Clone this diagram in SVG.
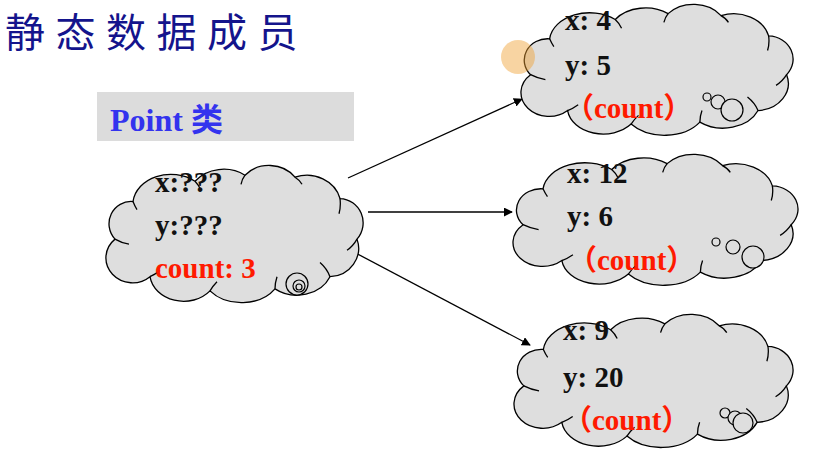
<svg xmlns="http://www.w3.org/2000/svg" width="823" height="450" viewBox="0 0 823 450">
<defs>
<style>
.cloud{fill:#dedede;stroke:#000;stroke-width:1.3;}
.inner{fill:none;stroke:#000;stroke-width:1.3;}
.bub{fill:#dedede;stroke:#000;stroke-width:1.2;}
.t{font-family:"Liberation Serif","Noto Sans CJK SC",serif;font-weight:bold;font-size:29px;fill:#111;}
.r{fill:#ff1a00;}
.conn{stroke:#000;stroke-width:1.3;fill:none;marker-end:url(#ah);}
</style>
<marker id="ah" viewBox="0 0 10 10" refX="9" refY="5" markerWidth="9" markerHeight="9" markerUnits="userSpaceOnUse" orient="auto">
<path d="M0,0 L10,5 L0,10 Z" fill="#000"/>
</marker>
<g id="cloudShape">
<path class="cloud" vector-effect="non-scaling-stroke" d="M 10,75 A 22,22 0 0 1 28,38 A 38,30 0 0 1 90,18 A 36,30 0 0 1 140,12 A 32,28 0 0 1 190,14 A 34,30 0 0 1 235,35 A 24,24 0 0 1 252,75 A 30,28 0 0 1 225,112 A 36,30 0 0 1 170,124 A 40,30 0 0 1 105,126 A 34,28 0 0 1 45,112 A 26,24 0 0 1 10,75 Z"/>
<path class="inner" vector-effect="non-scaling-stroke" d="M 28,38 Q 30,43 32,46 M 90,18 Q 94,22 96,27 M 140,12 Q 137,16 136,21 M 190,14 Q 195,17 197,21 M 235,35 Q 236,43 234,50 M 252,75 Q 248,82 242,86 M 225,112 Q 222,104 215,98 M 170,124 Q 170,118 172,112 M 105,126 Q 108,121 112,117 M 45,112 Q 50,110 55,106 M 10,75 Q 17,79 24,80"/>
</g>
</defs>
<text x="5" y="46.5" font-family="Noto Sans CJK SC,sans-serif" font-size="40" letter-spacing="10.5" fill="#14148c">静态数据成员</text>
<g id="pointClass">
<rect x="97" y="92" width="257" height="49" fill="#dcdcdc"/>
<text x="110" y="131" font-family="Liberation Serif,Noto Sans CJK SC,serif" font-weight="bold" font-size="32" fill="#3333ee">Point 类</text>
</g>
<g id="connectors">
<line class="conn" x1="348" y1="178" x2="522" y2="99"/>
<line class="conn" x1="368" y1="212" x2="512" y2="212"/>
<line class="conn" x1="350" y1="250" x2="530" y2="345"/>
</g>
<g id="classCloud">
<use href="#cloudShape" transform="translate(105,163) scale(1,1.015)"/>
<circle class="bub" cx="297" cy="284" r="11"/>
<circle class="bub" cx="299" cy="286" r="6"/>
<circle class="bub" cx="299" cy="287" r="3"/>
<text class="t" x="155" y="192">x:???</text>
<text class="t" x="155" y="235">y:???</text>
<text class="t r" x="155" y="278">count: 3</text>
</g>
<g id="obj1">
<use href="#cloudShape" transform="translate(520,2) scale(1.058,0.969)"/>
<circle class="bub" cx="707" cy="97" r="4"/>
<circle class="bub" cx="718" cy="102" r="7"/>
<circle class="bub" cx="732" cy="110" r="11"/>
<text class="t" x="565" y="30">x: 4</text>
<text class="t" x="565" y="75">y: 5</text>
<text class="t r" x="565" y="118">（count）</text>
</g>
<g id="obj2">
<use href="#cloudShape" transform="translate(512,152) scale(1.108,0.969)"/>
<circle class="bub" cx="716" cy="242" r="4"/>
<circle class="bub" cx="733" cy="247" r="7"/>
<circle class="bub" cx="753" cy="257" r="11"/>
<text class="t" x="567" y="183">x: 12</text>
<text class="t" x="567" y="226">y: 6</text>
<text class="t r" x="568" y="270">（count）</text>
</g>
<g id="obj3">
<use href="#cloudShape" transform="translate(513,312) scale(1.085,0.985)"/>
<circle class="bub" cx="725" cy="413" r="5"/>
<circle class="bub" cx="735" cy="418" r="7"/>
<circle class="bub" cx="743" cy="423" r="10"/>
<text class="t" x="563" y="340">x: 9</text>
<text class="t" x="563" y="387">y: 20</text>
<text class="t r" x="563" y="430">（count）</text>
</g>
<circle cx="518" cy="57" r="17" fill="#f0a030" fill-opacity="0.45"/>
</svg>
